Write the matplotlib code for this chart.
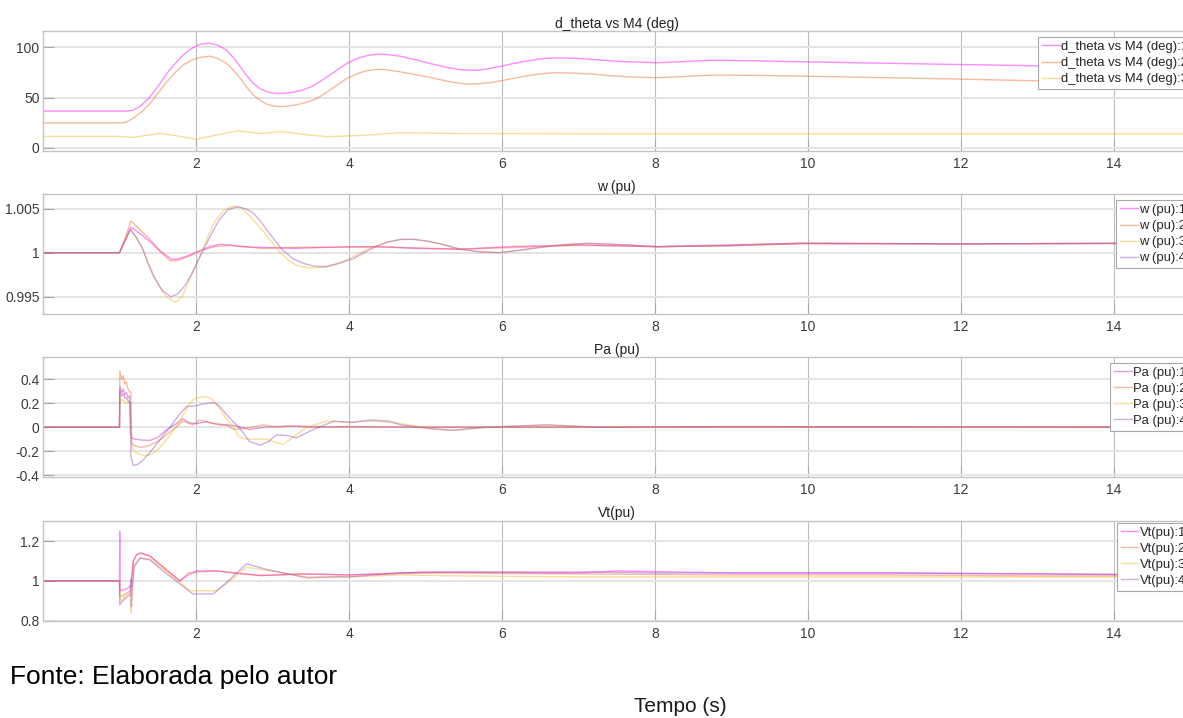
import matplotlib
matplotlib.use("Agg")
import matplotlib.pyplot as plt

plt.rcParams['font.family'] = ['Liberation Sans', 'DejaVu Sans']

W, H = 1183, 718

# ---------------- d_theta vs M4 (deg) ----------------
dth_t1 = [0, 1.0, 1.1, 1.18, 1.28, 1.40, 1.51, 1.62, 1.73, 1.83, 1.94, 2.05, 2.17, 2.28, 2.40,
          2.49, 2.58, 2.66, 2.75, 2.84, 2.92, 3.0, 3.07, 3.2, 3.36, 3.5, 3.62, 3.8, 3.97, 4.14,
          4.25, 4.37, 4.5, 4.67, 4.85, 5.06, 5.28, 5.42, 5.58, 5.72, 5.84, 6.0, 6.15, 6.3, 6.45,
          6.6, 6.76, 6.95, 7.19, 7.4, 7.63, 8.03, 8.4, 8.76, 9.3, 9.9, 10.8, 11.8, 13.0, 14.0,
          15.0]
dth_v1 = [36.6, 36.6, 36.7, 37.5, 42.0, 50.8, 62.0, 74.0, 84.0, 92.0, 98.5, 102.7, 104.0, 102.0,
          97.0, 89.5, 80.5, 72.0, 64.0, 58.5, 56.0, 54.5, 54.0, 54.6, 56.7, 60.5, 65.7, 75.0,
          83.8, 89.8, 91.8, 93.0, 92.7, 91.0, 87.8, 83.8, 79.9, 78.0, 77.0, 77.3, 78.9, 81.3,
          83.8, 86.0, 87.8, 89.0, 89.4, 89.0, 87.8, 86.5, 85.5, 84.5, 85.8, 87.0, 86.5, 85.5,
          84.3, 83.0, 81.5, 80.5, 80.0]
dth_t2 = [0, 1.0, 1.08, 1.18, 1.29, 1.40, 1.51, 1.62, 1.73, 1.83, 1.94, 2.05, 2.18, 2.29, 2.40,
          2.49, 2.58, 2.66, 2.75, 2.84, 2.92, 3.0, 3.1, 3.22, 3.36, 3.5, 3.62, 3.8, 3.97, 4.14,
          4.25, 4.37, 4.5, 4.67, 4.85, 5.06, 5.3, 5.52, 5.68, 5.84, 6.0, 6.15, 6.3, 6.45, 6.67,
          6.9, 7.19, 7.4, 7.63, 8.03, 8.4, 8.76, 9.3, 9.9, 10.8, 11.8, 13.0, 14.0, 15.0]
dth_v2 = [24.8, 24.8, 25.5, 29.4, 36.0, 44.2, 55.0, 65.7, 75.0, 82.2, 87.0, 89.8, 91.0, 88.5,
          83.8, 77.0, 69.0, 60.5, 52.5, 47.0, 43.6, 41.7, 41.0, 41.6, 43.6, 46.5, 50.8, 60.0,
          69.0, 74.6, 76.8, 78.0, 77.6, 75.5, 73.0, 70.0, 66.0, 63.4, 63.6, 64.7, 66.8, 69.0,
          71.2, 73.0, 74.6, 74.3, 73.3, 71.8, 70.6, 69.6, 71.0, 72.3, 72.0, 71.3, 70.0, 68.6,
          66.6, 65.5, 65.0]
dth_t3 = [0, 1.0, 1.18, 1.35, 1.53, 1.75, 2.01, 2.25, 2.53, 2.7, 2.84, 3.0, 3.12, 3.25, 3.40,
          3.71, 4.2, 4.67, 5.5, 8.0, 15.0]
dth_v3 = [11.5, 11.5, 10.5, 12.5, 14.5, 12.0, 8.6, 12.5, 16.8, 15.8, 14.2, 15.5, 16.2, 15.2, 13.5,
          11.2, 12.5, 15.2, 14.2, 14.0, 14.0]

# ---------------- w (pu) ----------------
w_t1 = [0, 1.0, 1.08, 1.15, 1.28, 1.40, 1.54, 1.68, 1.77, 1.85, 1.95, 2.05, 2.18, 2.31, 2.45,
        2.58, 2.8, 3.3, 4.0, 4.4, 4.85, 5.45, 6.15, 7.02, 8.03, 9.0, 9.9, 12.0, 14.0, 15.0]
w_v1 = [1.0, 1.0, 1.0015, 1.0029, 1.0021, 1.00125, 1.0001, 0.99925, 0.9993, 0.9995, 0.99985,
        1.0002, 1.0007, 1.00095, 1.00085, 1.0007, 1.0006, 1.0005, 1.00068, 1.00068, 1.0005,
        1.0004, 1.0007, 1.00088, 1.00068, 1.0009, 1.00107, 1.001, 1.00107, 1.0011]
w_t2 = [0, 1.0, 1.08, 1.15, 1.28, 1.40, 1.53, 1.66, 1.76, 1.85, 1.95, 2.05, 2.25, 2.44, 2.64,
        2.84, 3.36, 4.4, 5.45, 6.2, 7.0, 8.03, 9.0, 9.9, 12.0, 14.0, 15.0]
w_v2 = [1.0, 1.0, 1.0018, 1.0036, 1.0025, 1.0015, 1.0002, 0.99906, 0.9991, 0.9994, 0.99975,
        1.0002, 1.0007, 1.00084, 1.0007, 1.0005, 1.0006, 1.00065, 1.0004, 1.0006, 1.00085,
        1.00068, 1.0008, 1.001, 1.001, 1.00105, 1.0011]
w_t3 = [0, 1.0, 1.08, 1.15, 1.22, 1.30, 1.40, 1.50, 1.61, 1.73, 1.82, 1.90, 1.98, 2.07, 2.16,
        2.25, 2.36, 2.48, 2.59, 2.70, 2.80, 2.90, 3.0, 3.09, 3.2, 3.3, 3.43, 3.57, 3.7, 3.8,
        3.9, 4.0, 4.15, 4.3, 4.5, 4.67, 4.85, 5.03, 5.2, 5.45, 5.7, 5.97, 6.25, 6.5, 6.8, 7.11,
        7.6, 8.03, 9.0, 9.9, 12.0, 14.0, 15.0]
w_v3 = [1.0, 1.0, 1.0015, 1.00266, 1.0018, 1.0005, 0.9984, 0.9965, 0.995, 0.99436, 0.995,
        0.9966, 0.9982, 1.0, 1.0019, 1.0036, 1.0048, 1.00531, 1.0051, 1.0042, 1.0032, 1.0022,
        1.0011, 1.0001, 0.9992, 0.9986, 0.99832, 0.99826, 0.9984, 0.9986, 0.9989, 0.9993, 1.0,
        1.0006, 1.0012, 1.0015, 1.00152, 1.0013, 1.001, 1.0004, 1.0001, 1.0, 1.0003, 1.0006,
        1.0009, 1.00107, 1.0009, 1.00068, 1.0008, 1.00107, 1.001, 1.00105, 1.0011]
w_t4 = [0, 1.0, 1.07, 1.14, 1.22, 1.30, 1.37, 1.45, 1.56, 1.67, 1.76, 1.85, 1.95, 2.05, 2.17,
        2.30, 2.42, 2.54, 2.65, 2.75, 2.85, 2.95, 3.04, 3.13, 3.27, 3.40, 3.55, 3.70, 3.87, 4.05,
        4.2, 4.35, 4.5, 4.67, 4.85, 5.03, 5.2, 5.45, 5.7, 5.97, 6.25, 6.5, 6.8, 7.11, 7.6, 8.03,
        9.0, 9.9, 12.0, 14.0, 15.0]
w_v4 = [1.0, 1.0, 1.0013, 1.00266, 1.0017, 1.0005, 0.9988, 0.9972, 0.9957, 0.995, 0.9953,
        0.9962, 0.9977, 0.9995, 1.0016, 1.0037, 1.0049, 1.00523, 1.005, 1.0045, 1.0035, 1.0023,
        1.0013, 1.0003, 0.9993, 0.9988, 0.99845, 0.99841, 0.9988, 0.9993, 1.0, 1.0007, 1.0012,
        1.0015, 1.00152, 1.0013, 1.001, 1.0004, 1.0001, 1.0, 1.0003, 1.0006, 1.0009, 1.00107,
        1.0009, 1.00068, 1.0008, 1.00107, 1.001, 1.00105, 1.0011]

# ---------------- Pa (pu) ----------------
pa_t1 = [0, 1.0, 1.005, 1.03, 1.05, 1.07, 1.09, 1.11, 1.13, 1.145, 1.16, 1.2, 1.30, 1.40, 1.5,
         1.6, 1.74, 1.83, 1.92, 2.0, 2.14, 2.3, 2.5, 2.7, 2.9, 3.2, 3.5, 4.0, 5.0, 15.0]
pa_v1 = [0, 0, 0.34, 0.29, 0.32, 0.27, 0.29, 0.25, 0.26, -0.05, -0.09, -0.10, -0.108, -0.11,
         -0.085, -0.03, 0.03, 0.07, 0.035, 0.03, 0.045, 0.02, 0.015, -0.02, 0.0, 0.01, 0.0,
         0.005, 0.0, 0.0]
pa_t2 = [0, 1.0, 1.005, 1.03, 1.05, 1.07, 1.09, 1.11, 1.13, 1.15, 1.16, 1.18, 1.27, 1.38, 1.5,
         1.62, 1.74, 1.83, 1.96, 2.05, 2.23, 2.4, 2.49, 2.75, 2.88, 3.05, 3.3, 3.8, 4.4, 15.0]
pa_v2 = [0, 0, 0.47, 0.40, 0.43, 0.36, 0.38, 0.32, 0.30, 0.29, -0.12, -0.15, -0.17, -0.155,
         -0.12, -0.06, 0.0, 0.05, 0.02, 0.06, 0.03, 0.02, -0.02, 0.0, 0.02, 0.0, 0.01, 0.0, 0.0,
         0.0]
pa_t3 = [0, 1.0, 1.005, 1.03, 1.05, 1.08, 1.11, 1.14, 1.155, 1.2, 1.33, 1.42, 1.5, 1.62, 1.74,
         1.85, 1.92, 1.98, 2.1, 2.18, 2.25, 2.32, 2.4, 2.49, 2.55, 2.62, 2.7, 2.92, 3.05, 3.14,
         3.3, 3.45, 3.71, 4.0, 4.23, 4.45, 4.67, 5.06, 5.36, 5.71, 6.02, 6.59, 7.24, 9.0, 15.0]
pa_v3 = [0, 0, 0.24, 0.22, 0.23, 0.20, 0.21, 0.19, -0.15, -0.21, -0.24, -0.225, -0.19, -0.1,
         0.0, 0.12, 0.2, 0.24, 0.255, 0.245, 0.21, 0.14, 0.07, 0.0, -0.07, -0.095, -0.10, -0.10,
         -0.13, -0.142, -0.07, 0.0, 0.05, 0.04, 0.055, 0.045, 0.03, -0.01, -0.025, -0.005, 0.005,
         0.015, 0.0, 0.003, 0.0]
pa_t4 = [0, 1.0, 1.005, 1.03, 1.05, 1.07, 1.09, 1.11, 1.14, 1.15, 1.18, 1.24, 1.3, 1.4, 1.5,
         1.58, 1.66, 1.74, 1.8, 1.88, 1.97, 2.1, 2.23, 2.3, 2.38, 2.48, 2.56, 2.7, 2.84, 2.95,
         3.05, 3.2, 3.31, 3.5, 3.8, 4.05, 4.3, 4.53, 4.67, 5.06, 5.36, 5.71, 6.02, 6.59, 7.24,
         9.0, 15.0]
pa_v4 = [0, 0, 0.30, 0.26, 0.28, 0.24, 0.25, 0.22, 0.21, -0.25, -0.32, -0.31, -0.28, -0.21,
         -0.13, -0.06, 0.0, 0.07, 0.12, 0.175, 0.175, 0.195, 0.205, 0.18, 0.12, 0.05, 0.0, -0.12,
         -0.15, -0.12, -0.065, -0.07, -0.09, -0.03, 0.05, 0.04, 0.06, 0.05, 0.02, -0.013, -0.027,
         -0.005, 0.005, 0.02, 0.0, 0.005, 0.0]

# ---------------- Vt(pu) ----------------
vt_t1 = [0, 1.0, 1.003, 1.006, 1.02, 1.06, 1.10, 1.14, 1.15, 1.18, 1.22, 1.27, 1.4, 1.6, 1.79,
         1.9, 2.01, 2.27, 2.5, 2.84, 3.1, 3.36, 4.0, 5.0, 7.0, 7.5, 9.0, 11.0, 13.0, 15.0]
vt_v1 = [1.0, 1.0, 1.25, 0.96, 0.95, 0.955, 0.96, 0.975, 0.97, 1.10, 1.13, 1.14, 1.125, 1.06,
         1.0, 1.03, 1.05, 1.05, 1.04, 1.027, 1.03, 1.035, 1.03, 1.045, 1.04, 1.05, 1.04, 1.04,
         1.035, 1.03]
vt_t2 = [0, 1.0, 1.003, 1.02, 1.10, 1.14, 1.18, 1.22, 1.27, 1.4, 1.6, 1.79, 1.9, 2.01, 2.27,
         2.5, 2.84, 3.36, 4.0, 5.0, 7.0, 9.0, 11.0, 13.0, 15.0]
vt_v2 = [1.0, 1.0, 0.93, 0.92, 0.94, 0.95, 1.10, 1.13, 1.14, 1.125, 1.06, 1.0, 1.04, 1.045,
         1.05, 1.04, 1.027, 1.035, 1.03, 1.04, 1.035, 1.03, 1.03, 1.025, 1.025]
vt_t3 = [0, 1.0, 1.003, 1.02, 1.10, 1.14, 1.15, 1.16, 1.19, 1.27, 1.4, 1.6, 1.92, 2.27, 2.45,
         2.66, 2.9, 3.14, 3.45, 3.8, 4.0, 4.67, 5.5, 7.0, 9.0, 11.0, 13.0, 15.0]
vt_v3 = [1.0, 1.0, 0.92, 0.90, 0.93, 0.94, 0.84, 0.90, 1.08, 1.115, 1.11, 1.05, 0.951, 0.95,
         1.0, 1.069, 1.055, 1.04, 1.02, 1.02, 1.02, 1.03, 1.025, 1.02, 1.02, 1.02, 1.02, 1.02]
vt_t4 = [0, 1.0, 1.003, 1.02, 1.10, 1.14, 1.15, 1.155, 1.165, 1.19, 1.27, 1.4, 1.6, 1.96, 2.23,
         2.45, 2.66, 2.9, 3.14, 3.45, 3.8, 4.0, 4.67, 5.5, 7.0, 8.0, 9.0, 11.0, 13.0, 15.0]
vt_v4 = [1.0, 1.0, 0.88, 0.89, 0.92, 0.93, 1.01, 0.87, 0.95, 1.07, 1.115, 1.105, 1.04, 0.934,
         0.935, 1.01, 1.086, 1.06, 1.04, 1.015, 1.02, 1.02, 1.04, 1.045, 1.045, 1.04, 1.04, 1.04,
         1.035, 1.03]

x_ticks = [2, 4, 6, 8, 10, 12, 14]

# series colours (drawn semi-transparent)
col1 = '#FF00FF'
col1_pa = '#B82CC0'
col2 = '#E9692C'
col3 = '#F5B325'
col4 = '#9B4FBF'
ALPHA = 0.45
LW = 1.0

fig = plt.figure(figsize=(W / 100, H / 100), dpi=100)

x_left = 43
x_right = 1190.5


def add_axes(top_px, bot_px):
    return fig.add_axes([x_left / W, 1 - bot_px / H, (x_right - x_left) / W, (bot_px - top_px) / H])


def style(ax, title, ylim, yticks, yticklabels):
    ax.set_xlim(0, 15)
    ax.set_ylim(*ylim)
    ax.set_xticks(x_ticks)
    ax.set_xticklabels([str(v) for v in x_ticks])
    ax.set_yticks(yticks)
    ax.set_yticklabels(yticklabels)
    ax.xaxis.grid(True, color='#bdbdbd', lw=0.8)
    ax.yaxis.grid(True, color='#e4e4e4', lw=1.4)
    ax.set_axisbelow(True)
    for s in ax.spines.values():
        s.set_color('#c4c4c4')
        s.set_linewidth(1.0)
    ax.tick_params(axis='both', direction='in', length=8, width=0.8, color='#a8a8a8',
                   labelsize=10, labelcolor='#3c3c3c')
    ax.tick_params(axis='y', pad=2.5)
    ax.tick_params(axis='x', pad=4.5)
    ax.set_title(title, fontsize=10, color='#222222', pad=2.5)


def legend(ax, handles, labels, left_px, top_px):
    leg = ax.legend(handles, labels, loc='upper left',
                    bbox_to_anchor=(left_px / W, 1 - top_px / H),
                    bbox_transform=fig.transFigure, fontsize=9.4, frameon=True,
                    fancybox=False, framealpha=1, edgecolor='#a8a8a8', borderpad=0.3,
                    labelspacing=0.3, handlelength=1.35, handletextpad=0.12,
                    borderaxespad=0)
    leg.get_frame().set_linewidth(0.8)
    for t in leg.get_texts():
        t.set_color('#262626')
    return leg


# d_theta
ax1 = add_axes(31, 151)
h = []
h += ax1.plot(dth_t1, dth_v1, color=col1, alpha=ALPHA, lw=LW)
h += ax1.plot(dth_t2, dth_v2, color=col2, alpha=ALPHA, lw=LW)
h += ax1.plot(dth_t3, dth_v3, color=col3, alpha=ALPHA, lw=LW)
style(ax1, 'd_theta vs M4 (deg)', (-3, 116), [0, 50, 100], ['0', '50', '100'])
legend(ax1, h, ['d_theta vs M4 (deg):1', 'd_theta vs M4 (deg):2', 'd_theta vs M4 (deg):3'],
       1038, 37)

# w
ax2 = add_axes(194, 314)
h = []
h += ax2.plot(w_t1, w_v1, color=col1, alpha=ALPHA, lw=LW)
h += ax2.plot(w_t2, w_v2, color=col2, alpha=ALPHA, lw=LW)
h += ax2.plot(w_t3, w_v3, color=col3, alpha=ALPHA, lw=LW)
h += ax2.plot(w_t4, w_v4, color=col4, alpha=ALPHA, lw=LW)
style(ax2, 'w (pu)', (0.99303, 1.00667), [0.995, 1.0, 1.005], ['0.995', '1', '1.005'])
legend(ax2, h, ['w (pu):1', 'w (pu):2', 'w (pu):3', 'w (pu):4'], 1116, 200)

# Pa
ax3 = add_axes(357.3, 476.7)
h = []
h += ax3.plot(pa_t1, pa_v1, color=col1_pa, alpha=ALPHA, lw=LW)
h += ax3.plot(pa_t2, pa_v2, color=col2, alpha=ALPHA, lw=LW)
h += ax3.plot(pa_t3, pa_v3, color=col3, alpha=ALPHA, lw=LW)
h += ax3.plot(pa_t4, pa_v4, color=col4, alpha=ALPHA, lw=LW)
style(ax3, 'Pa (pu)', (-0.414, 0.584), [-0.4, -0.2, 0, 0.2, 0.4],
      ['-0.4', '-0.2', '0', '0.2', '0.4'])
legend(ax3, h, ['Pa (pu):1', 'Pa (pu):2', 'Pa (pu):3', 'Pa (pu):4'], 1110, 362.7)

# Vt
ax4 = add_axes(520.7, 621)
h = []
h += ax4.plot(vt_t1, vt_v1, color=col1, alpha=ALPHA, lw=LW)
h += ax4.plot(vt_t2, vt_v2, color=col2, alpha=ALPHA, lw=LW)
h += ax4.plot(vt_t3, vt_v3, color=col3, alpha=ALPHA, lw=LW)
h += ax4.plot(vt_t4, vt_v4, color=col4, alpha=ALPHA, lw=LW)
style(ax4, 'Vt(pu)', (0.798, 1.303), [0.8, 1.0, 1.2], ['0.8', '1', '1.2'])
legend(ax4, h, ['Vt(pu):1', 'Vt(pu):2', 'Vt(pu):3', 'Vt(pu):4'], 1116.7, 522.7)

fig.text(10 / W, 1 - 677 / H, 'Fonte: Elaborada pelo autor', fontsize=19, color='black',
         ha='left', va='center')
fig.text(680 / W, 1 - 707 / H, 'Tempo (s)', fontsize=15, color='#1a1a1a', ha='center',
         va='center')

fig.savefig('out.png', dpi=100)
